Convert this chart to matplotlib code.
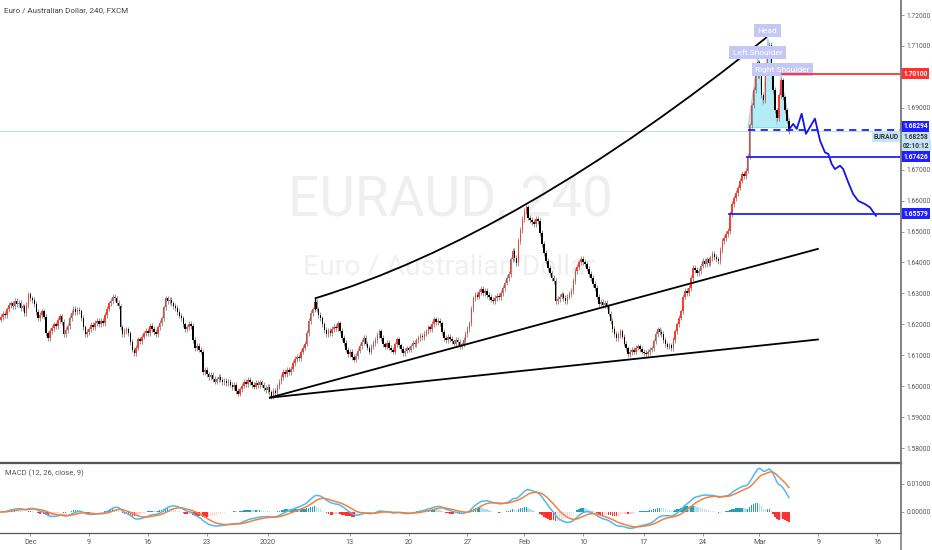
import numpy as np
import pandas as pd
import matplotlib
matplotlib.use('Agg')
import matplotlib.pyplot as plt
from matplotlib.path import Path
from matplotlib.patches import PathPatch, Polygon
from matplotlib.lines import Line2D

plt.rcParams['font.family'] = ['Roboto', 'DejaVu Sans']

# EURAUD 4h closes (bar index 0 = first visible candle)
closes = [
    1.6223, 1.6235, 1.6230, 1.6248, 1.6262, 1.6268, 1.6259, 1.6275, 1.6266, 1.6270,
    1.6252, 1.6258, 1.6236, 1.6262, 1.6297, 1.6284, 1.6279, 1.6265, 1.6240, 1.6219,
    1.6231, 1.6242, 1.6225, 1.6171, 1.6155, 1.6178, 1.6189, 1.6200, 1.6195, 1.6214,
    1.6226, 1.6207, 1.6168, 1.6181, 1.6194, 1.6220, 1.6238, 1.6249, 1.6240, 1.6246,
    1.6242, 1.6221, 1.6190, 1.6168, 1.6176, 1.6184, 1.6198, 1.6192, 1.6205, 1.6210,
    1.6201, 1.6212, 1.6203, 1.6230, 1.6251, 1.6268, 1.6275, 1.6290, 1.6284, 1.6270,
    1.6258, 1.6190, 1.6168, 1.6178, 1.6184, 1.6171, 1.6142, 1.6118, 1.6106, 1.6125,
    1.6151, 1.6145, 1.6160, 1.6171, 1.6180, 1.6172, 1.6194, 1.6185, 1.6176, 1.6168,
    1.6190, 1.6205, 1.6219, 1.6255, 1.6284, 1.6276, 1.6280, 1.6268, 1.6259, 1.6252,
    1.6240, 1.6228, 1.6219, 1.6200, 1.6184, 1.6190, 1.6201, 1.6194, 1.6150, 1.6122,
    1.6130, 1.6118, 1.6112, 1.6045, 1.6052, 1.6038, 1.6030, 1.6036, 1.6024, 1.6015,
    1.6022, 1.6030, 1.6021, 1.6012, 1.6018, 1.6010, 1.6014, 1.6005, 1.5998, 1.6003,
    1.5985, 1.5976, 1.5990, 1.6002, 1.6015, 1.6008, 1.6021, 1.6012, 1.6004, 1.5999,
    1.6010, 1.6003, 1.6012, 1.6005, 1.5995, 1.5988, 1.5997, 1.5980, 1.5968, 1.5985,
    1.5978, 1.5999, 1.6015, 1.6030, 1.6047, 1.6040, 1.6052, 1.6045, 1.6057, 1.6075,
    1.6088, 1.6096, 1.6090, 1.6112, 1.6125, 1.6138, 1.6172, 1.6210, 1.6236, 1.6248,
    1.6272, 1.6248, 1.6230, 1.6219, 1.6200, 1.6182, 1.6168, 1.6178, 1.6171, 1.6185,
    1.6192, 1.6188, 1.6203, 1.6180, 1.6155, 1.6140, 1.6118, 1.6103, 1.6110, 1.6095,
    1.6086, 1.6098, 1.6115, 1.6130, 1.6142, 1.6155, 1.6138, 1.6125, 1.6112, 1.6128,
    1.6140, 1.6150, 1.6165, 1.6177, 1.6155, 1.6135, 1.6128, 1.6140, 1.6125, 1.6118,
    1.6112, 1.6135, 1.6151, 1.6132, 1.6120, 1.6106, 1.6115, 1.6122, 1.6118, 1.6129,
    1.6140, 1.6135, 1.6148, 1.6155, 1.6162, 1.6158, 1.6170, 1.6177, 1.6190, 1.6185,
    1.6202, 1.6216, 1.6208, 1.6212, 1.6203, 1.6175, 1.6155, 1.6148, 1.6160, 1.6152,
    1.6145, 1.6138, 1.6150, 1.6142, 1.6128, 1.6135, 1.6150, 1.6168, 1.6185, 1.6203,
    1.6250, 1.6284, 1.6295, 1.6290, 1.6305, 1.6314, 1.6300, 1.6307, 1.6295, 1.6288,
    1.6280, 1.6275, 1.6285, 1.6292, 1.6288, 1.6301, 1.6318, 1.6335, 1.6350, 1.6362,
    1.6410, 1.6437, 1.6415, 1.6398, 1.6469, 1.6505, 1.6540, 1.6567, 1.6578, 1.6545,
    1.6538, 1.6530, 1.6525, 1.6540, 1.6534, 1.6495, 1.6460, 1.6430, 1.6405, 1.6382,
    1.6365, 1.6350, 1.6340, 1.6275, 1.6282, 1.6290, 1.6297, 1.6285, 1.6275, 1.6290,
    1.6298, 1.6307, 1.6340, 1.6372, 1.6385, 1.6400, 1.6411, 1.6402, 1.6395, 1.6380,
    1.6362, 1.6349, 1.6330, 1.6317, 1.6290, 1.6265, 1.6272, 1.6262, 1.6270, 1.6258,
    1.6235, 1.6210, 1.6185, 1.6168, 1.6155, 1.6165, 1.6177, 1.6160, 1.6138, 1.6122,
    1.6103, 1.6110, 1.6118, 1.6112, 1.6125, 1.6129, 1.6120, 1.6112, 1.6108, 1.6103,
    1.6110, 1.6118, 1.6122, 1.6145, 1.6168, 1.6184, 1.6175, 1.6168, 1.6150, 1.6135,
    1.6128, 1.6132, 1.6122, 1.6150, 1.6177, 1.6200, 1.6222, 1.6242, 1.6290, 1.6307,
    1.6300, 1.6317, 1.6350, 1.6382, 1.6375, 1.6365, 1.6372, 1.6390, 1.6405, 1.6395,
    1.6410, 1.6398, 1.6415, 1.6427, 1.6418, 1.6410, 1.6405, 1.6440, 1.6469, 1.6480,
    1.6492, 1.6502, 1.6557, 1.6590, 1.6609, 1.6625, 1.6642, 1.6665, 1.6687, 1.6680,
    1.6697, 1.6745, 1.6843, 1.6908, 1.6957, 1.7005, 1.7047, 1.7005, 1.6940, 1.6924,
    1.7021, 1.7086, 1.7103, 1.7021, 1.6957, 1.6892, 1.6866, 1.6940, 1.6989, 1.6934,
    1.6892, 1.6859, 1.6826,
]
first_open = 1.6215
last_price = 1.68258

date_ticks = [15, 45, 75, 105, 136, 178, 208, 238, 267, 297, 328, 358, 387, 417, 447]
date_labels = ['Dec', '9', '16', '23', '2020', '13', '20', '27', 'Feb', '10', '17', '24', 'Mar', '9', '16']
price_ticks = [1.58, 1.59, 1.60, 1.61, 1.62, 1.63, 1.64, 1.65, 1.66, 1.67, 1.68, 1.69, 1.70, 1.71, 1.72]
hidden_ticks = [1.68, 1.70]  # sit under the price tags

# drawings (bar index, price)
arc_pts = [(160.2, 1.6284), (263.8, 1.6483), (390.8, 1.7129)]
trend1 = [(137.2, 1.5963), (416.8, 1.6444)]
trend2 = [(137.2, 1.5963), (416.8, 1.6151)]
hs_pts = [(381.1, 1.6836), (386.2, 1.7060), (388.8, 1.6908), (391.3, 1.7125),
          (395.9, 1.6843), (398.0, 1.7005), (402.6, 1.6836)]
hs_labels = [('Head', 391.1, 1.7150), ('Left Shoulder', 386.0, 1.7078), ('Right Shoulder', 398.7, 1.7023)]
path_bars = [401.7, 404.2, 406.0, 408.5, 410.7, 415.3, 417.9, 420.4, 422.1, 423.8,
             425.5, 428.1, 429.7, 432.3, 434.8, 437.4, 440.8, 443.4, 446.4]
path_prices = [1.6827, 1.6848, 1.6832, 1.6881, 1.6816, 1.6865, 1.6794, 1.6756, 1.6751, 1.6719,
               1.6702, 1.6713, 1.6702, 1.6659, 1.6621, 1.6599, 1.6589, 1.6578, 1.6551]
levels = [  # price, start bar, colour, style
    (1.70100, 398.5, '#ff3030', '-'),
    (1.68294, 381.0, '#1f1fff', '--'),
    (1.67426, 380.6, '#1f1fff', '-'),
    (1.65579, 371.4, '#1f1fff', '-'),
]

WICK = 0.0009
UP = '#ff3b30'
DOWN = '#000000'

c = np.array(closes)
o = np.array([first_open] + closes[:-1])
x = np.arange(len(c))
up = c >= o

fig = plt.figure(figsize=(9.32, 5.5), dpi=100)
ax = fig.add_axes([0, 88 / 550, 901 / 932, 462 / 550])
ax2 = fig.add_axes([0, 17 / 550, 901 / 932, 70 / 550], sharex=ax)

xmax = 459.2
ax.set_xlim(-0.5, xmax)
ax.set_ylim(1.57549, 1.72487)

# watermark
ax.text(0.5, 0.565, 'EURAUD, 240', transform=ax.transAxes, fontsize=39.5,
        color='#efefef', ha='center', va='center', zorder=0)
ax.text(0.498, 0.422, 'Euro / Australian Dollar', transform=ax.transAxes, fontsize=20.4,
        color='#f0f0f0', ha='center', va='center', zorder=0)

# head & shoulders fill
ax.add_patch(Polygon(hs_pts, closed=True, fc='#b3ecf5', ec='#7fd6e6', lw=0.6, zorder=1))

# candles
bot = np.minimum(o, c)
h = np.maximum(np.abs(c - o), 0.00008)
ax.vlines(x, bot - WICK, bot + h + WICK, color='#777777', lw=0.55, zorder=3)
ax.bar(x[up], h[up], bottom=bot[up], width=0.75, color=UP, lw=0, zorder=4)
ax.bar(x[~up], h[~up], bottom=bot[~up], width=0.75, color=DOWN, lw=0, zorder=4)

# last price line
ax.axhline(last_price, color='#b5dcf3', lw=0.7, zorder=2)

# trend lines and arc
for (x0, y0), (x1, y1) in [trend1, trend2]:
    ax.plot([x0, x1], [y0, y1], color='black', lw=1.3, zorder=5)
arc = Path(arc_pts, [Path.MOVETO, Path.CURVE3, Path.CURVE3])
ax.add_patch(PathPatch(arc, fc='none', ec='black', lw=1.3, zorder=5))
ax.plot([arc_pts[0][0]] * 2, [arc_pts[0][1], 1.6250], color='black', lw=1.0, zorder=5)

# horizontal levels (drawn over the pattern labels)
for price, start, col, ls in levels:
    ax.plot([start, xmax], [price, price], color=col, lw=1.3, ls=ls,
            dashes=(4, 3) if ls == '--' else (None, None), zorder=8)

# projected path
ax.plot(path_bars, path_prices, color='#1414e6', lw=1.3, solid_joinstyle='round', zorder=6)

# pattern labels
for txt, bx, by in hs_labels:
    ax.text(bx, by, txt, fontsize=6, color='white', ha='center', va='center', zorder=7,
            bbox=dict(boxstyle='square,pad=0.4', fc='#c5c8f4', ec='none'))

# axes cosmetics
for a in (ax, ax2):
    a.set_facecolor('white')
    a.spines['left'].set_visible(False)
    a.spines['top'].set_visible(False)
    a.spines['right'].set_color('#808080')
    a.spines['right'].set_linewidth(1.2)
    a.spines['bottom'].set_color('#555555')
    a.spines['bottom'].set_linewidth(0.9)
    a.yaxis.tick_right()
    a.tick_params(axis='y', length=2.5, width=0.6, colors='#888888', labelcolor='#555555',
                  labelsize=4.8, pad=1.5)

ax.set_yticks(price_ticks)
ax.set_yticklabels(['' if p in hidden_ticks else f'{p:.5f}' for p in price_ticks])
ax.tick_params(axis='x', bottom=False, labelbottom=False)


def tag(a, y, text, fc, tc, dx=1.5, dy=0, ha='left', x=1, z=10):
    a.annotate(text, xy=(x, y), xycoords=('axes fraction', 'data'), xytext=(dx, dy),
               textcoords='offset points', ha=ha, va='center', fontsize=4.8, color=tc,
               fontweight='bold', annotation_clip=False, zorder=z,
               bbox=dict(boxstyle='square,pad=0.25', fc=fc, ec='none'))


# tags pushed apart where they would collide, as the platform does
tag(ax, last_price, '02:10:12', '#c6e6f7', '#333333', dy=-11, z=9)
tag(ax, last_price, '1.68258', '#c6e6f7', '#333333', dy=-4.3, z=9)
tag(ax, last_price, 'EURAUD', '#c6e6f7', '#333333', dx=-1.5, dy=-4.3, ha='right', z=9)
tag(ax, 1.70100, '1.70100', '#ff3030', 'white')
tag(ax, 1.68294, '1.68294', '#1f1fff', 'white', dy=2.4)
tag(ax, 1.67426, '1.67426', '#1f1fff', 'white')
tag(ax, 1.65579, '1.65579', '#1f1fff', 'white')

# MACD
s = pd.Series(closes)
macd = s.ewm(span=12, adjust=False).mean() - s.ewm(span=26, adjust=False).mean()
signal = macd.ewm(span=9, adjust=False).mean()
hist = (macd - signal).to_numpy()
prev = np.concatenate([[0], hist[:-1]])
hcol = np.where(hist >= 0,
                np.where(hist >= prev, '#26a0b0', '#b3dfe8'),
                np.where(hist < prev, '#ff3030', '#ffcdd2'))
ax2.bar(x, hist, width=0.75, color=hcol, lw=0, zorder=2)
ax2.plot(x, macd, color='#4fb9f2', lw=1.1, zorder=3)
ax2.plot(x, signal, color='#f5803e', lw=1.1, zorder=3)
ax2.set_ylim(-0.0075, 0.0175)
ax2.set_yticks([0.0, 0.01])
ax2.set_yticklabels(['0.00000', '0.01000'])
ax2.spines['top'].set_visible(True)
ax2.spines['top'].set_color('#555555')
ax2.spines['top'].set_linewidth(0.9)
ax2.text(0.005, 0.85, 'MACD (12, 26, close, 9)', transform=ax2.transAxes, fontsize=5.5,
         color='#555555', va='center')
ax2.set_xticks(date_ticks)
ax2.set_xticklabels(date_labels)
ax2.tick_params(axis='x', length=2, width=0.6, colors='#888888', labelcolor='#555555',
                labelsize=5.2, pad=2)

fig.text(4 / 932, 1 - 10 / 550, 'Euro / Australian Dollar, 240, FXCM', fontsize=5.8,
         color='#444444', va='center')
fig.add_artist(Line2D([901 / 932] * 2, [0, 1], color='#808080', lw=1.2))

fig.savefig('out.png', dpi=100)
